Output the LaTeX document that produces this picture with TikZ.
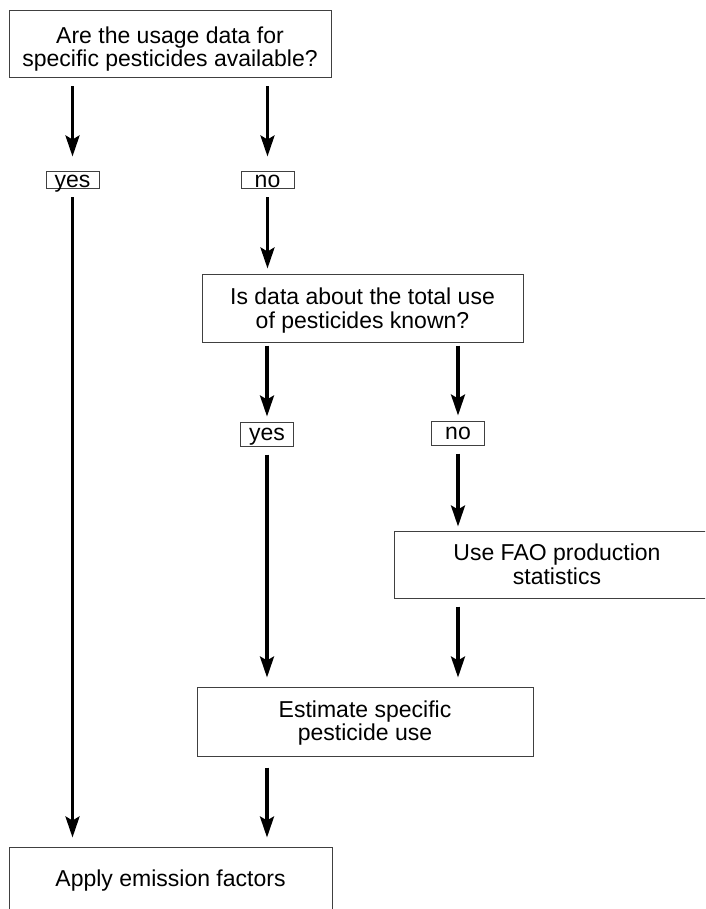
\documentclass[tikz,border=0pt]{standalone}
\usepackage{fontspec}
\setmainfont{Liberation Sans}
\usetikzlibrary{arrows.meta}

\begin{document}
\begin{tikzpicture}[
    x=1pt, y=-1pt,
    font=\fontsize{23}{23.5}\selectfont,
    every node/.style={inner sep=0pt},
    question/.style={draw=black!75, line width=1pt, align=center},
    answer/.style={draw=black!75, line width=1pt, minimum width=53pt, text height=15pt, text depth=1.6pt},
    flow/.style={line width=3.2pt, -{Stealth[length=21pt, width=14pt, inset=4pt]}, shorten <=8pt, shorten >=9pt}
]
   \clip (0,0) rectangle (705,909);

   % Questions and steps
   \node[question, minimum width=322pt, minimum height=67pt] (usage) at (170,44.5) {\rule{0pt}{25.5pt}Are the usage data for\\specific pesticides available?};
   \node[question, minimum width=321pt, minimum height=68pt] (total) at (362.5,308) {\rule{0pt}{22pt}Is data about the total use\\of pesticides known?};
   \node[question, minimum width=326pt, minimum height=67pt] (fao) at (557,564.5) {Use FAO production\\statistics};
   \node[question, minimum width=336pt, minimum height=69pt] (estimate) at (365,721.5) {\rule{0pt}{20pt}Estimate specific\\pesticide use};
   \node[question, minimum width=323pt, minimum height=67pt] (apply) at (170.5,880.5) {Apply emission factors};

   % Answers
   \node[answer, minimum height=17pt] (yes1) at (72.5,180.5) {yes};
   \node[answer, minimum height=17pt] (no1) at (267.5,180.5) {no};
   \node[answer, minimum height=24pt] (yes2) at (267,434) {yes};
   \node[answer, minimum height=24pt] (no2) at (458,433) {no};

   % Connections
   \draw[flow, shorten >=15pt] (usage.south -| yes1) -- (yes1.north);
   \draw[flow] (yes1.south) -- (apply.north -| yes1);
   \draw[flow, shorten >=15pt] (usage.south -| no1) -- (no1.north);
   \draw[flow, shorten >=5pt] (no1.south) -- (total.north -| no1);
   \draw[flow, shorten <=3pt, shorten >=5pt] (total.south -| yes2) -- (yes2.north);
   \draw[flow, shorten <=3pt, shorten >=5pt] (total.south -| no2) -- (no2.north);
   \draw[flow] (yes2.south) -- (estimate.north -| yes2);
   \draw[flow, shorten >=4pt] (no2.south) -- (fao.north -| no2);
   \draw[flow] (fao.south -| no2) -- (estimate.north -| no2);
   \draw[flow, shorten <=11pt] (estimate.south -| yes2) -- (apply.north -| yes2);
\end{tikzpicture}
\end{document}
